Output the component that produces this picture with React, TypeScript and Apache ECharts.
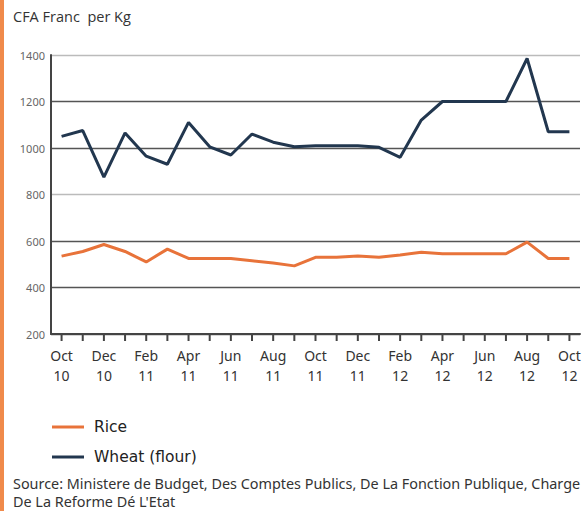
import React, { useEffect, useRef } from "react";
import * as echarts from "echarts";

const months = [
  "Oct\n10", "Nov\n10", "Dec\n10", "Jan\n11", "Feb\n11", "Mar\n11", "Apr\n11", "May\n11", "Jun\n11",
  "Jul\n11", "Aug\n11", "Sep\n11", "Oct\n11", "Nov\n11", "Dec\n11", "Jan\n12", "Feb\n12", "Mar\n12",
  "Apr\n12", "May\n12", "Jun\n12", "Jul\n12", "Aug\n12", "Sep\n12", "Oct\n12",
];
const rice = [535, 555, 585, 555, 510, 565, 525, 525, 525, 515, 505, 493, 530, 530, 535, 530, 540, 552, 545, 545, 545, 545, 595, 525, 525];
const wheat = [1050, 1075, 875, 1065, 965, 930, 1110, 1005, 970, 1060, 1025, 1005, 1010, 1010, 1010, 1003, 960, 1120, 1200, 1200, 1200, 1200, 1385, 1070, 1070];
const yTicks = { min: 200, max: 1400, interval: 200 };
const sourceLines = [
  "Source: Ministere de Budget, Des Comptes Publics, De La Fonction Publique, Charge",
  "De La Reforme Dé L'Etat",
];

export default function App() {
  const ref = useRef<HTMLDivElement>(null);
  useEffect(() => {
    const chart = echarts.init(ref.current!, null, { renderer: "svg" });
    chart.setOption({
      animation: false,
      backgroundColor: "#fff",
      grid: { left: 51, right: 4, top: 55, bottom: 177, containLabel: false },
      xAxis: {
        type: "category",
        data: months,
        boundaryGap: true,
        axisLine: { show: true, lineStyle: { color: "#444", width: 2 } },
        axisTick: { show: false },
        axisLabel: {
          show: true,
          interval: 1,
          color: "#333",
          fontSize: 14,
          lineHeight: 20,
          margin: 11,
          fontFamily: "Noto Sans",
        },
      },
      yAxis: {
        type: "value",
        min: yTicks.min,
        max: yTicks.max,
        interval: yTicks.interval,
        axisLine: { show: true, lineStyle: { color: "#444", width: 2 } },
        axisTick: { show: false },
        axisLabel: {
          color: "#666",
          fontSize: 11,
          margin: 6,
          fontFamily: "Noto Sans",
          formatter: (v: number) => String(v),
        },
        splitLine: {
          lineStyle: { color: ["#555", "#555", "#555", "#bbb", "#555", "#555", "#bbb"], width: 1.3 },
        },
      },
      legend: {
        orient: "vertical",
        left: 47,
        top: 412,
        itemGap: 10,
        itemWidth: 32,
        itemHeight: 3,
        icon: "rect",
        textStyle: { fontSize: 15.5, lineHeight: 20, color: "#222", fontFamily: "DejaVu Sans", padding: [0, 0, 0, 5] },
        data: ["Rice", "Wheat (flour)"],
      },
      graphic: [
        { type: "rect", left: 0, top: 0, shape: { width: 4, height: 511 }, style: { fill: "#F08A4B" } },
        {
          type: "text",
          left: 13,
          top: 9,
          style: { text: "CFA Franc  per Kg", fontSize: 14.5, fill: "#333", fontFamily: "Open Sans" },
        },
        ...sourceLines.map((t, i) => ({
          type: "text",
          left: 13,
          top: 476 + i * 18,
          style: { text: t, fontSize: 14.4, fill: "#333", fontFamily: "Noto Sans" },
        })),
      ],
      series: [
        {
          name: "Rice",
          type: "line",
          data: rice,
          symbol: "none",
          lineStyle: { color: "#E8733A", width: 3 },
          itemStyle: { color: "#E8733A" },
        },
        {
          name: "Wheat (flour)",
          type: "line",
          data: wheat,
          symbol: "none",
          lineStyle: { color: "#22374F", width: 3 },
          itemStyle: { color: "#22374F" },
        },
        {
          name: "ticks",
          type: "custom",
          clip: false,
          silent: true,
          data: months.map((_, i) => [i, yTicks.min]),
          renderItem: (params: any, api: any) => {
            const p = api.coord([api.value(0), api.value(1)]);
            return {
              type: "line",
              shape: { x1: p[0], y1: p[1] + 1, x2: p[0], y2: p[1] + 7 },
              style: { stroke: "#444", lineWidth: 2 },
            };
          },
        },
      ],
    });
    return () => chart.dispose();
  }, []);
  return <div ref={ref} style={{ width: 584, height: 511, position: "absolute", left: 0, top: 0 }} />;
}
